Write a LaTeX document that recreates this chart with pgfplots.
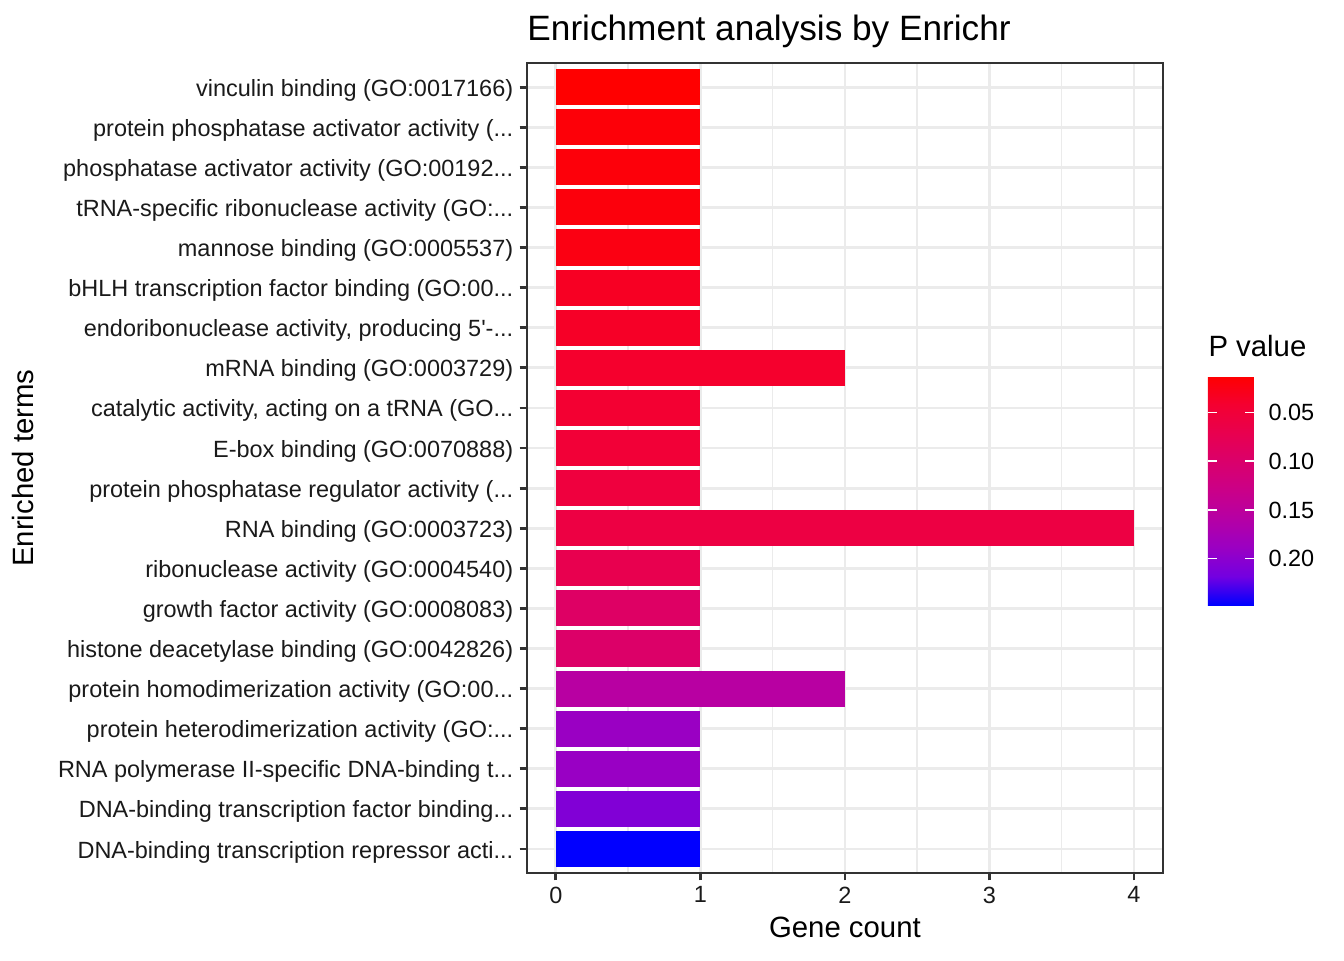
\documentclass[border=0pt]{standalone}
\usepackage{pgfplots}
\pgfplotsset{compat=1.18}
\usetikzlibrary{calc}
\usepackage{fontspec}
\setmainfont{Liberation Sans}

\definecolor{grey92}{HTML}{EBEBEB}
\definecolor{grey20}{HTML}{333333}
\definecolor{grey10}{HTML}{1A1A1A}
\newcommand*\dd{...}

% P value range of the colour scale
\def\pmin{0.0126}
\def\pmax{0.2476}
\pgfplotsset{
    pbar/.style={xbar, bar width=0.9, bar shift=0pt,
        color of colormap={(#1-\pmin)/(\pmax-\pmin)*1000},
        fill, draw=none},
}

\begin{document}
\begin{tikzpicture}
\useasboundingbox (0,0) rectangle (504pt,360pt);
\begin{axis}[
    name=main,
    at={(197.6pt,32.6pt)}, anchor=south west,
    scale only axis, width=238.5pt, height=303.75pt,
    xmin=-0.2, xmax=4.2, ymin=0.4, ymax=20.6, y dir=reverse,
    xtick={0,1,2,3,4}, minor xtick={0.5,1.5,2.5,3.5},
    ytick={1,2,3,4,5,6,7,8,9,10,11,12,13,14,15,16,17,18,19,20},
    yticklabels={
        {vinculin binding (GO:0017166)},
        {protein phosphatase activator activity (\dd},
        {phosphatase activator activity (GO:00192\dd},
        {tRNA-specific ribonuclease activity (GO:\dd},
        {mannose binding (GO:0005537)},
        {bHLH transcription factor binding (GO:00\dd},
        {endoribonuclease activity, producing 5\textquotesingle-\dd},
        {mRNA binding (GO:0003729)},
        {catalytic activity, acting on a tRNA (GO\dd},
        {E-box binding (GO:0070888)},
        {protein phosphatase regulator activity (\dd},
        {RNA binding (GO:0003723)},
        {ribonuclease activity (GO:0004540)},
        {growth factor activity (GO:0008083)},
        {histone deacetylase binding (GO:0042826)},
        {protein homodimerization activity (GO:00\dd},
        {protein heterodimerization activity (GO:\dd},
        {RNA polymerase II-specific DNA-binding t\dd},
        {DNA-binding transcription factor binding\dd},
        {DNA-binding transcription repressor acti\dd}},
    xmajorgrids, xminorgrids, ymajorgrids,
    major grid style={grey92, line width=1.07pt},
    minor grid style={grey92, line width=0.53pt},
    axis line style={grey20, line width=0.8pt},
    tick style={grey20, line width=1.07pt},
    major tick length=2.75pt, minor tick length=0pt,
    tick align=outside, xtick pos=lower, ytick pos=left,
    /pgf/number format/assume math mode=true,
    ticklabel style={font=\fontsize{8.8}{10}\selectfont, text=grey10},
    yticklabel style={inner sep=0pt, xshift=-2.2pt, yshift=-1.1pt},
    xticklabel style={inner sep=0pt, yshift=-2.2pt},
    clip=false,
    % red to blue, interpolated in Lab as ggplot does (stops every 1/8)
    colormap={ggred}{rgb255=(255,0,0) rgb255=(244,0,49) rgb255=(232,0,79)
        rgb255=(218,0,108) rgb255=(202,0,137) rgb255=(181,0,165)
        rgb255=(154,0,195) rgb255=(115,0,225) rgb255=(0,0,255)},
    point meta min=\pmin, point meta max=\pmax,
    colorbar,
    colorbar/width=17.25pt,
    colorbar style={
        at={($(main.south east)+(8.36pt,100.5pt)$)}, anchor=south west,
        scale only axis, height=85.9pt,
        y dir=reverse,
        ytick={0.05,0.10,0.15,0.20},
        yticklabels={0.05,0.10,0.15,0.20},
        axis line style={draw=none},
        major tick length=3.4pt,
        tick style={white, line width=0.6pt},
        tick align=inside, ytick pos=both,
        yticklabel pos=right,
        yticklabel style={font=\fontsize{8.8}{10}\selectfont, text=black,
            anchor=west, inner sep=0pt, xshift=5.25pt},
    },
]
% (gene count, row from the top); the style argument is the P value
\addplot[pbar=0.0126] coordinates {(1,1)};
\addplot[pbar=0.0173] coordinates {(1,2)};
\addplot[pbar=0.0185] coordinates {(1,3)};
\addplot[pbar=0.0197] coordinates {(1,4)};
\addplot[pbar=0.0232] coordinates {(1,5)};
\addplot[pbar=0.0338] coordinates {(1,6)};
\addplot[pbar=0.0361] coordinates {(1,7)};
\addplot[pbar=0.0396] coordinates {(2,8)};
\addplot[pbar=0.0432] coordinates {(1,9)};
\addplot[pbar=0.0479] coordinates {(1,10)};
\addplot[pbar=0.0549] coordinates {(1,11)};
\addplot[pbar=0.0596] coordinates {(4,12)};
\addplot[pbar=0.0714] coordinates {(1,13)};
\addplot[pbar=0.0925] coordinates {(1,14)};
\addplot[pbar=0.0972] coordinates {(1,15)};
\addplot[pbar=0.1560] coordinates {(2,16)};
\addplot[pbar=0.1889] coordinates {(1,17)};
\addplot[pbar=0.1900] coordinates {(1,18)};
\addplot[pbar=0.2077] coordinates {(1,19)};
\addplot[pbar=0.2476] coordinates {(1,20)};
\end{axis}
\node[anchor=base west, inner sep=0pt, font=\fontsize{13.2}{15}\selectfont]
    at ([yshift=8.5pt]main.north west) {Enrichment analysis by Enrichr};
\node[anchor=base, inner sep=0pt, font=\fontsize{11}{13}\selectfont]
    at ([yshift=-24pt]main.south) {Gene count};
\node[anchor=base, rotate=90, inner sep=0pt, font=\fontsize{11}{13}\selectfont]
    at ([xshift=-185.1pt]main.west) {Enriched terms};
\node[anchor=base west, inner sep=0pt, font=\fontsize{11}{13}\selectfont]
    at (453pt,226.5pt) {P value};
\end{tikzpicture}
\end{document}
